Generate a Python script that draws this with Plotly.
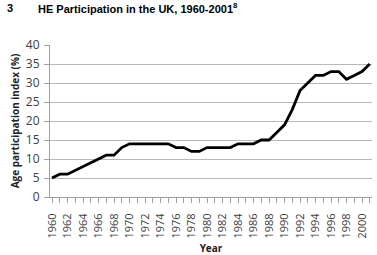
import plotly.graph_objects as go

years = list(range(1960, 2002))
api = [5, 6, 6, 7, 8, 9, 10, 11, 11, 13, 14, 14, 14, 14, 14, 14, 13, 13, 12, 12,
       13, 13, 13, 13, 14, 14, 14, 15, 15, 17, 19, 23, 28, 30, 32, 32, 33, 33, 31, 32,
       33, 35]
xtick_vals = list(range(1960, 2001, 2))
ytick_vals = list(range(0, 41, 5))

fig = go.Figure()
fig.add_trace(go.Scatter(x=years, y=api, mode="lines",
                         line=dict(color="black", width=2.8), hoverinfo="skip"))

fig.update_layout(
    width=377, height=255,
    margin=dict(l=50, r=5, t=45, b=58),
    paper_bgcolor="white", plot_bgcolor="white",
    showlegend=False,
    font=dict(family="Liberation Sans, Arial", color="#404040"),
)
fig.update_xaxes(
    range=[1959.74, 2001.29], automargin=False,
    tickvals=xtick_vals, ticktext=[str(v) for v in xtick_vals],
    tickangle=-90, tickfont=dict(size=11, color="#404040", family="Open Sans, Liberation Sans"),
    ticks="outside", ticklen=5, tickcolor="#a0a0a0", ticklabelstandoff=6,
    minor=dict(dtick=1, tick0=1960, ticks="outside", ticklen=5, tickcolor="#a0a0a0", showgrid=False),
    showline=True, linecolor="#a0a0a0", linewidth=1,
    showgrid=False, zeroline=False,
    title=dict(text="<b>Year</b>", font=dict(size=10, color="#222222", family="Open Sans, Liberation Sans"), standoff=12),
)
fig.update_yaxes(
    range=[0, 40], tickvals=ytick_vals, automargin=False,
    tickfont=dict(size=12, color="#404040", family="Open Sans, Liberation Sans"),
    ticks="outside", ticklen=5, tickcolor="#a0a0a0", ticklabelstandoff=2,
    showline=True, linecolor="#a0a0a0", linewidth=1,
    showgrid=True, gridcolor="#b8b8b8", gridwidth=1, zeroline=False,
    title=dict(text="<b>Age participation index (%)</b>", font=dict(size=10, color="#222222", family="Open Sans, Liberation Sans"), standoff=4),
)
fig.add_annotation(text="<b>3</b>", x=5, y=8, xref="paper", yref="paper", showarrow=False,
                   xanchor="left", yanchor="middle", font=dict(size=11, color="black", family="Liberation Sans, Arial"))
fig.add_annotation(text="<b>HE Participation in the UK, 1960-2001<sup>8</sup></b>", x=36, y=8,
                   xref="paper", yref="paper", showarrow=False,
                   xanchor="left", yanchor="middle", font=dict(size=11, color="black", family="Liberation Sans, Arial"))
# convert pixel positions to paper coordinates
for ann in fig.layout.annotations:
    px, py = ann.x, ann.y
    ann.x = (px - 50) / (377 - 50 - 5)
    ann.y = 1 + (45 - py) / (255 - 45 - 58)

fig.write_html("out.html")
